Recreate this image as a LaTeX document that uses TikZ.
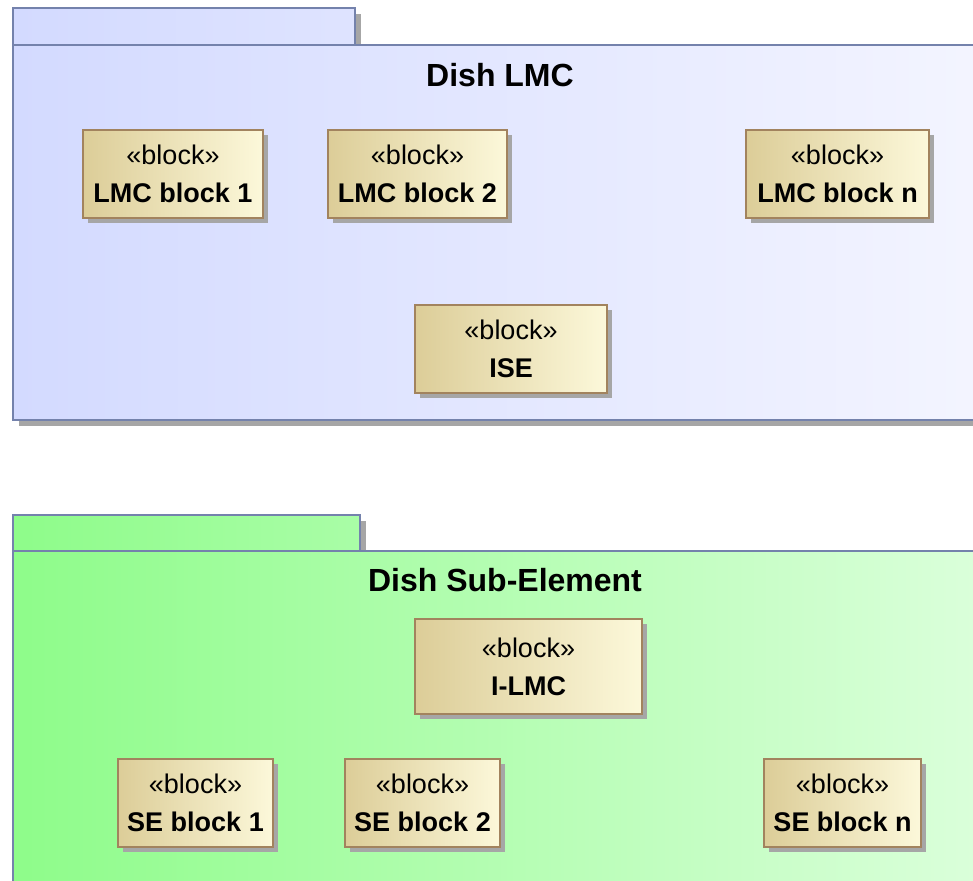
\documentclass[tikz,border=0pt]{standalone}
\usepackage{fontspec}
\setmainfont{Liberation Sans}
\usetikzlibrary{shadows}

\definecolor{pkgline}{HTML}{7482AC}
\definecolor{lmcleft}{HTML}{D3DAFF}
\definecolor{lmcright}{HTML}{F4F5FF}
\definecolor{seleft}{HTML}{8EFC8A}
\definecolor{seright}{HTML}{DCFFDC}
\definecolor{blockline}{HTML}{A2835E}
\definecolor{blockleft}{HTML}{DCCD98}
\definecolor{blockright}{HTML}{FCF8DA}

\tikzset{
  pkgshadow/.style={drop shadow={shadow xshift=3pt, shadow yshift=-3pt, fill=black!35, opacity=1}},
  blockshadow/.style={drop shadow={shadow xshift=2.5pt, shadow yshift=-2.5pt, fill=black!35, opacity=1}},
}

\begin{document}
\begin{tikzpicture}[x=0.5pt, y=-0.5pt, line width=1pt,
    every node/.style={font=\fontsize{13.5}{19}\selectfont},
    block/.style={draw=blockline, left color=blockleft, right color=blockright,
      blockshadow, align=center, inner sep=0pt, minimum height=44pt},
    pkgtitle/.style={font=\fontsize{16}{19}\selectfont\bfseries}]
  \clip (0,0) rectangle (973,880);

  % Dish LMC package
  \draw[pkgline, line width=1.3pt, left color=lmcleft, right color=lmcleft!65!lmcright, pkgshadow] (13,8) rectangle (355,45);
  \draw[pkgline, line width=1.3pt, left color=lmcleft, right color=lmcright, pkgshadow] (13,45) rectangle (1000,420);
  \node[pkgtitle] (lmctitle) at (500,75) {Dish LMC};

  \node[block, minimum width=90pt] (lmc1) at (173,174) {«block»\\\textbf{LMC block 1}};
  \node[block, minimum width=89.5pt] (lmc2) at (417.5,174) {«block»\\\textbf{LMC block 2}};
  \node[block, minimum width=91.5pt] (lmcn) at (837.5,174) {«block»\\\textbf{LMC block n}};
  \node[block, minimum width=96pt] (ise) at (511,349) {«block»\\\textbf{ISE}};

  % Dish Sub-Element package
  \draw[pkgline, line width=1.3pt, left color=seleft, right color=seleft!65!seright, pkgshadow] (13,515) rectangle (360,551);
  \draw[pkgline, line width=1.3pt, left color=seleft, right color=seright, pkgshadow] (13,551) rectangle (1000,920);
  \node[pkgtitle] (setitle) at (505,580) {Dish Sub-Element};

  \node[block, minimum width=113.5pt, minimum height=47.5pt] (ilmc) at (528.5,666.5) {«block»\\\textbf{I-LMC}};
  \node[block, minimum width=77.5pt] (se1) at (195.5,803) {«block»\\\textbf{SE block 1}};
  \node[block, minimum width=77.5pt] (se2) at (422.5,803) {«block»\\\textbf{SE block 2}};
  \node[block, minimum width=78.5pt] (sen) at (842.5,803) {«block»\\\textbf{SE block n}};
\end{tikzpicture}
\end{document}
